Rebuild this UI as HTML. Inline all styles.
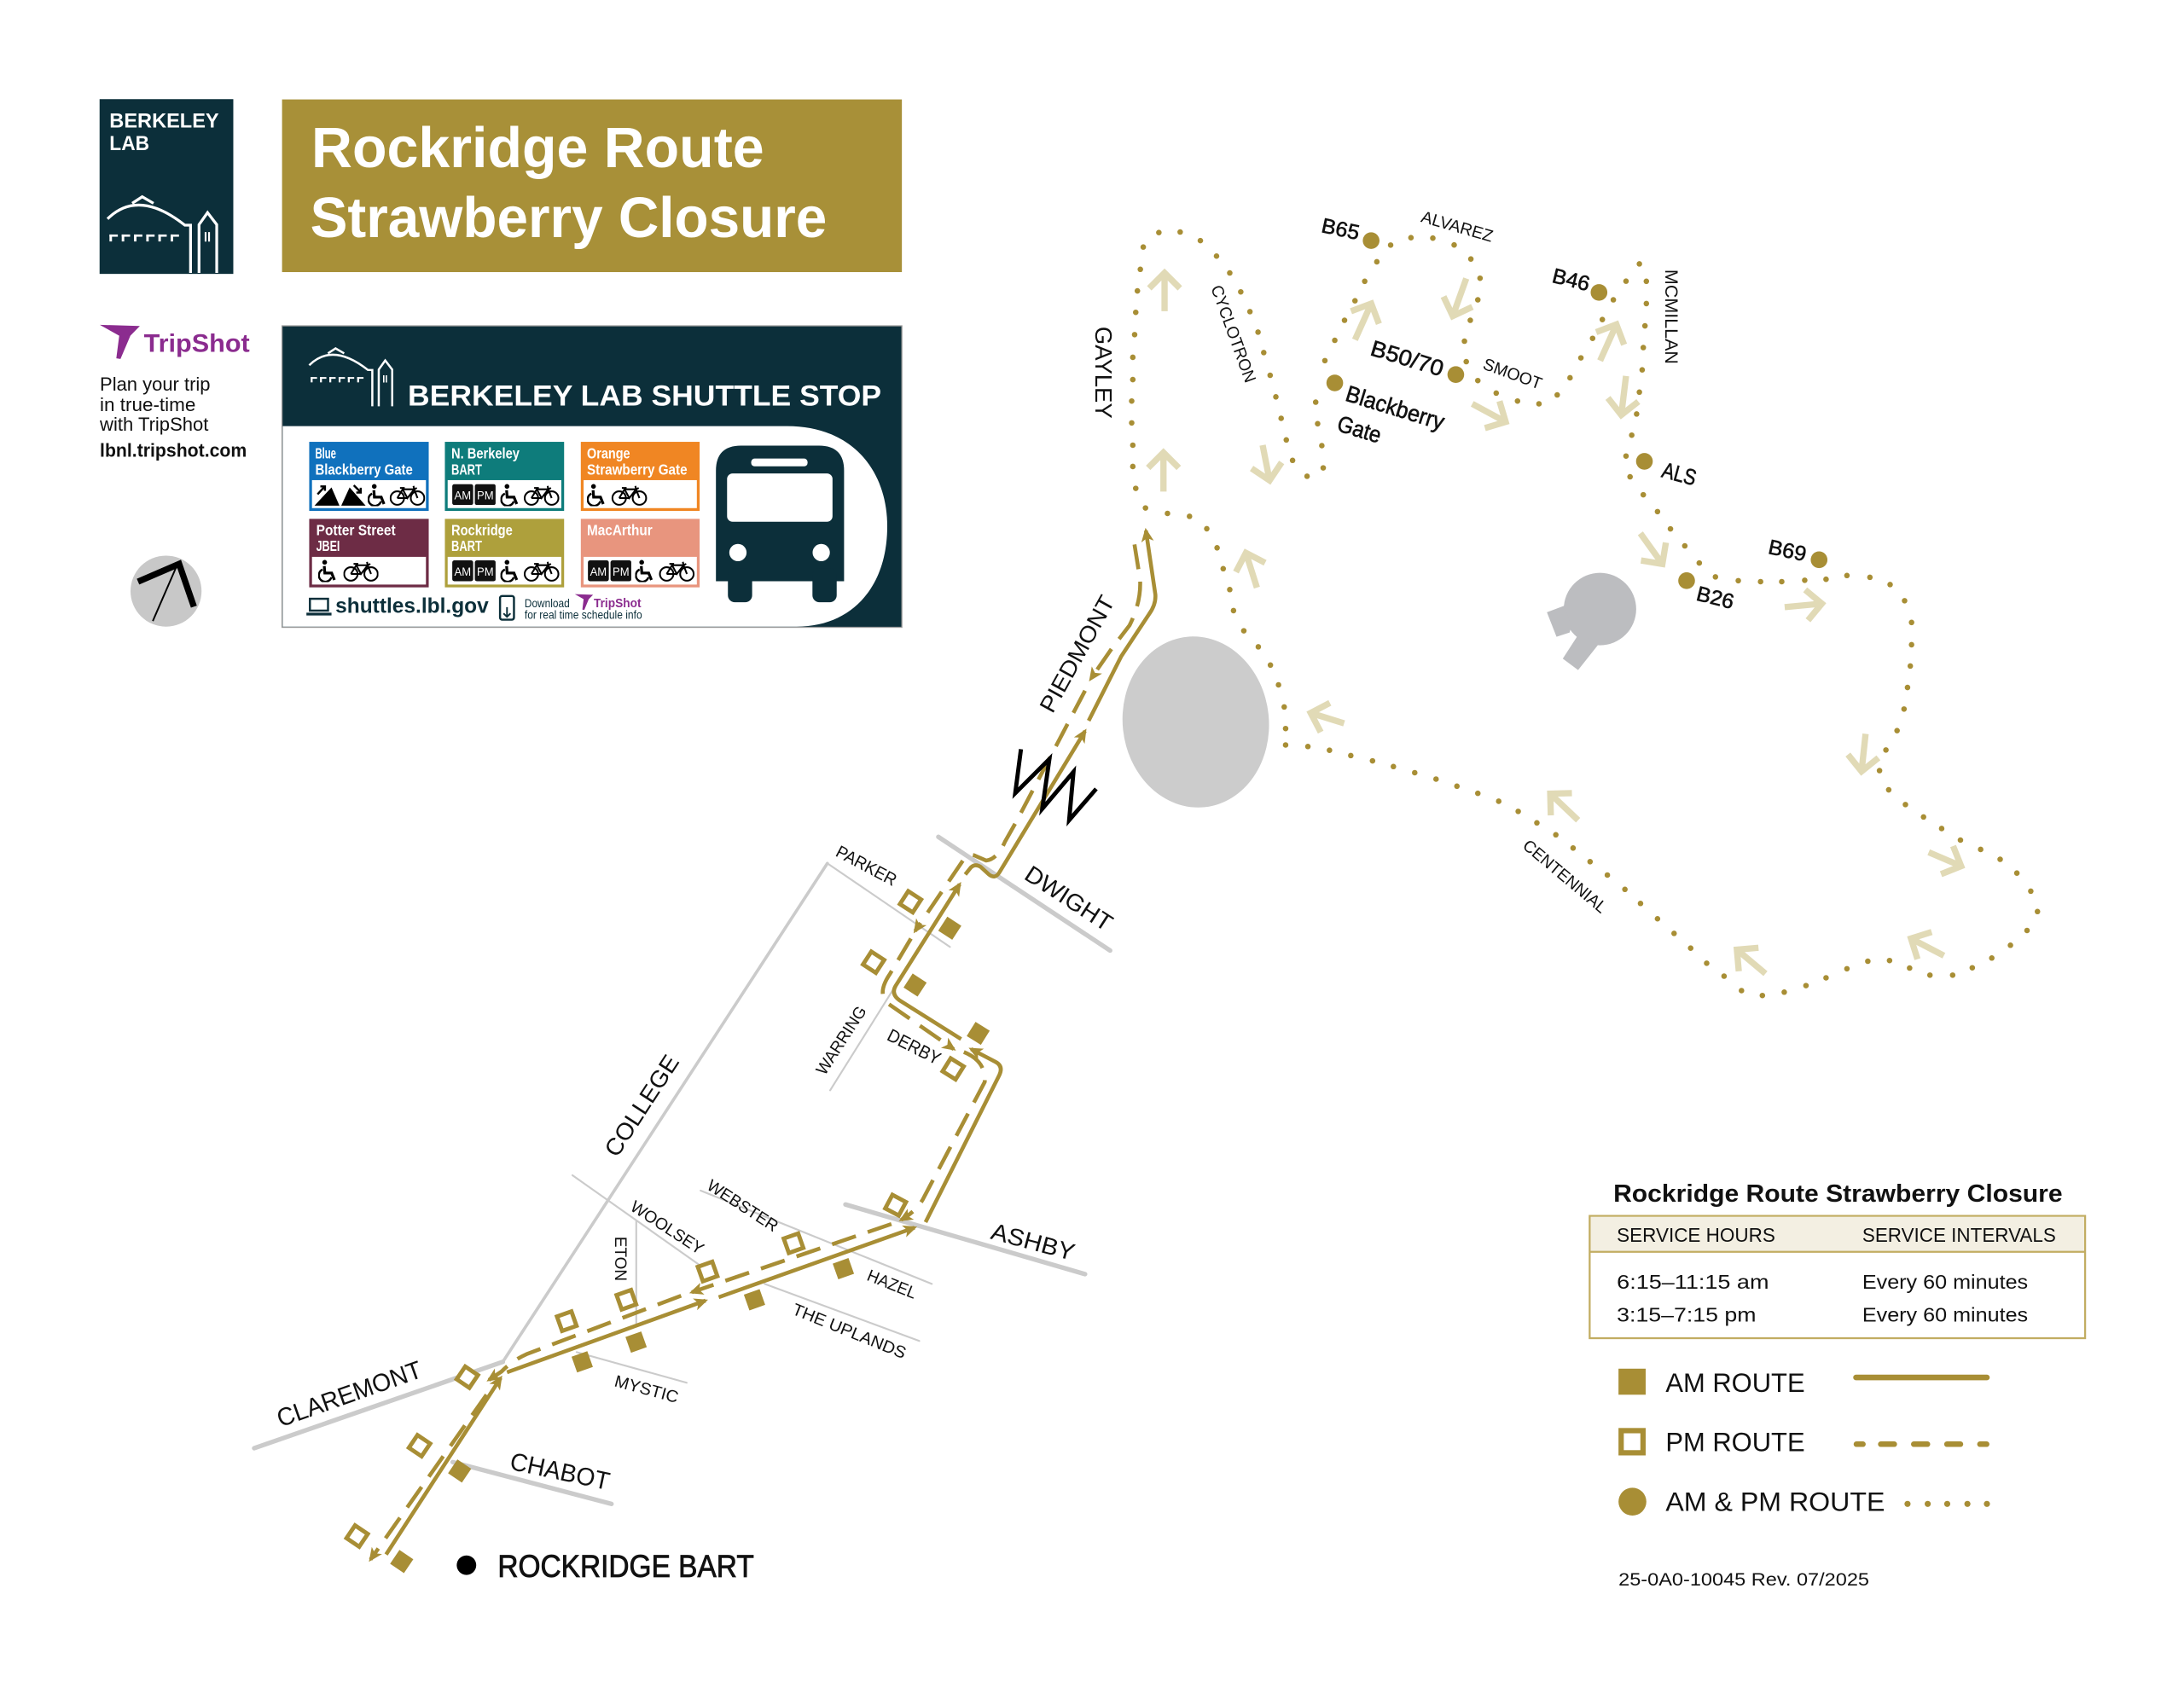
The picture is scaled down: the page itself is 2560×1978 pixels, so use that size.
<!DOCTYPE html>
<html><head><meta charset="utf-8">
<style>
html,body{margin:0;padding:0;background:#fff;width:2560px;height:1978px;overflow:hidden}
svg{display:block}
text{font-family:"Liberation Sans",Arial,sans-serif}
.rd{stroke:#cbcbcb;stroke-linecap:round;fill:none}
.sol{stroke:#a88e35;stroke-width:2.8;fill:none;stroke-linejoin:round}
.dsh{stroke:#a88e35;stroke-width:2.8;fill:none;stroke-dasharray:18 9;stroke-linejoin:round}
.pa{stroke:#e1dab6;stroke-width:4.5;fill:none}
.lb{fill:#111}
</style></head><body>
<svg width="2560" height="1978" viewBox="0 0 1568 1211.5" preserveAspectRatio="none" xmlns="http://www.w3.org/2000/svg">
<defs>
<marker id="ah" viewBox="0 0 10 9" refX="8" refY="4.5" markerWidth="10" markerHeight="9" markerUnits="userSpaceOnUse" orient="auto" overflow="visible"><path d="M0,0 L10,4.5 L0,9 L2.5,4.5 Z" fill="#a88e35"/></marker>
<marker id="pv" viewBox="0 0 20 24" refX="17" refY="12" markerWidth="20" markerHeight="24" markerUnits="userSpaceOnUse" orient="auto" overflow="visible"><path d="M6,1 L17,12 L6,23" stroke="#e1dab6" stroke-width="4.5" fill="none"/></marker>
<symbol id="wc" viewBox="0 0 14 16"><circle cx="4.5" cy="1.8" r="1.7" fill="#000"/><path d="M4.2,4.5 L4.6,9.5 L9.5,9.5 L11.5,14.5" stroke="#000" stroke-width="2" fill="none"/><path d="M3,7 A4.6,4.6 0 1 0 9.3,12.6" stroke="#000" stroke-width="1.5" fill="none"/></symbol>
<symbol id="bk" viewBox="0 0 26 16"><g stroke="#000" stroke-width="1.3" fill="none"><circle cx="5.5" cy="10" r="5"/><circle cx="20.5" cy="10" r="5"/><path d="M5.5,10 L9.5,3.5 L18,3.5 L20.5,10 M9.5,3.5 L13,10 L18,3.5 M13,10 L5.5,10 M7.5,2.5 L11,2.5 M17.5,1 L18,3.5 L20,2.5"/></g></symbol>
<symbol id="ampm" viewBox="0 0 31 15"><rect x="0" y="0" width="15" height="15" rx="1.5" fill="#111"/><rect x="16.2" y="0" width="15" height="15" rx="1.5" fill="#111"/><text x="7.5" y="11" font-size="8.5" fill="#fff" text-anchor="middle" textLength="12" lengthAdjust="spacingAndGlyphs">AM</text><text x="23.7" y="11" font-size="8.5" fill="#fff" text-anchor="middle" textLength="12" lengthAdjust="spacingAndGlyphs">PM</text></symbol>
</defs>

<!-- ===== HEADER ===== -->
<rect x="71.5" y="71.2" width="96" height="125.5" fill="#0c2f3a"/>
<text x="78.6" y="91.5" font-size="14.5" font-weight="bold" fill="#fff" textLength="78.6" lengthAdjust="spacingAndGlyphs">BERKELEY</text>
<text x="78.6" y="107.8" font-size="14.5" font-weight="bold" fill="#fff" textLength="28.6" lengthAdjust="spacingAndGlyphs">LAB</text>
<g id="logo">
<g stroke="#fff" stroke-width="2" fill="none">
<path d="M77.2,157.2 Q99.3,135.3 132.7,161.7 L136.8,161.7 L136.8,196"/>
<path d="M94.9,146 L102.1,141.3 L110.2,146"/>
<path d="M142.9,196 V161.3 L149,152.7 L155.6,161.3 V196"/>
<path d="M147.6,166.7 V173.5 M150.1,166.7 V173.5" stroke-width="1.3"/>
</g>
<g fill="#fff">
<rect x="78.6" y="168.4" width="6" height="1.6"/><rect x="78.6" y="168.4" width="1.8" height="5"/>
<rect x="87.4" y="168.4" width="6" height="1.6"/><rect x="87.4" y="168.4" width="1.8" height="5"/>
<rect x="96.2" y="168.4" width="6" height="1.6"/><rect x="96.2" y="168.4" width="1.8" height="5"/>
<rect x="105" y="168.4" width="6" height="1.6"/><rect x="105" y="168.4" width="1.8" height="5"/>
<rect x="113.7" y="168.4" width="6" height="1.6"/><rect x="113.7" y="168.4" width="1.8" height="5"/>
<rect x="122.5" y="168.4" width="6" height="1.6"/><rect x="122.5" y="168.4" width="1.8" height="5"/>
</g>
</g>

<rect x="202.5" y="71.4" width="445" height="124" fill="#a89038"/>
<text x="223.6" y="119.9" font-size="41" font-weight="bold" fill="#fff" textLength="325" lengthAdjust="spacingAndGlyphs">Rockridge Route</text>
<text x="222.7" y="170.2" font-size="41" font-weight="bold" fill="#fff" textLength="371" lengthAdjust="spacingAndGlyphs">Strawberry Closure</text>

<!-- TripShot -->
<path d="M71.7,233.3 L100.4,234.1 L93.6,241.1 L86.5,257.8 L83.5,257.3 L85.6,241.1 Z" fill="#8b2c8f"/>
<text x="103.3" y="252.7" font-size="18" font-weight="bold" fill="#8b2c8f" textLength="76" lengthAdjust="spacingAndGlyphs">TripShot</text>
<text x="71.7" y="280.5" font-size="13.5" fill="#111" textLength="79.3" lengthAdjust="spacingAndGlyphs">Plan your trip</text>
<text x="71.7" y="295.2" font-size="13.5" fill="#111" textLength="68.8" lengthAdjust="spacingAndGlyphs">in true-time</text>
<text x="71.7" y="309.4" font-size="13.5" fill="#111" textLength="78" lengthAdjust="spacingAndGlyphs">with TripShot</text>
<text x="71.7" y="328" font-size="13.5" font-weight="bold" fill="#111" textLength="105.5" lengthAdjust="spacingAndGlyphs">lbnl.tripshot.com</text>

<!-- North arrow -->
<circle cx="119.2" cy="424.5" r="25.5" fill="#c8c8c8"/>
<path d="M99.1,417.7 L128.6,405 L139.2,435.7" stroke="#000" stroke-width="4.5" fill="none" stroke-linejoin="miter"/>
<path d="M126.5,407.3 L109.7,446" stroke="#000" stroke-width="1.2"/>

<!-- ===== SHUTTLE SIGN ===== -->
<rect x="202.5" y="234" width="445" height="216.5" fill="#0c2f3a" stroke="#9a9a9a" stroke-width="0.8"/>
<path d="M203,306 H565 C612,306 637,338 637,378 C637,421 612,450 572,450 H203 Z" fill="#fff"/>
<g transform="translate(222,250.2) scale(0.76) translate(-77.2,-141.3)">
<use href="#logo"/>
</g>
<text x="292.8" y="291.1" font-size="21" font-weight="bold" fill="#fff" textLength="340" lengthAdjust="spacingAndGlyphs">BERKELEY LAB SHUTTLE STOP</text>

<!-- route boxes -->
<rect x="222" y="317.3" width="85.8" height="49.6" fill="#1071bd"/><rect x="224" y="344.8" width="81.8" height="20.1" fill="#fff"/>
<rect x="319.4" y="317.3" width="85.6" height="49.6" fill="#0e7c7b"/><rect x="321.4" y="344.8" width="81.6" height="20.1" fill="#fff"/>
<rect x="417" y="317.3" width="85.3" height="49.6" fill="#f08623"/><rect x="419" y="344.8" width="81.3" height="20.1" fill="#fff"/>
<rect x="222" y="372.6" width="85.8" height="49.2" fill="#6d2c45"/><rect x="224" y="399.9" width="81.8" height="19.9" fill="#fff"/>
<rect x="319.4" y="372.6" width="85.6" height="49.2" fill="#aea03c"/><rect x="321.4" y="399.9" width="81.6" height="19.9" fill="#fff"/>
<rect x="417" y="372.6" width="85.3" height="49.2" fill="#e8957e"/><rect x="419" y="399.9" width="81.3" height="19.9" fill="#fff"/>
<g font-size="10.5" font-weight="bold" fill="#fff">
<text x="226.3" y="329.3" textLength="15" lengthAdjust="spacingAndGlyphs">Blue</text>
<text x="226.3" y="341" textLength="70" lengthAdjust="spacingAndGlyphs">Blackberry Gate</text>
<text x="324" y="329.3" textLength="49" lengthAdjust="spacingAndGlyphs">N. Berkeley</text>
<text x="324" y="341" textLength="22" lengthAdjust="spacingAndGlyphs">BART</text>
<text x="421.4" y="329.3" textLength="31" lengthAdjust="spacingAndGlyphs">Orange</text>
<text x="421.4" y="341" textLength="72" lengthAdjust="spacingAndGlyphs">Strawberry Gate</text>
<text x="227" y="384.4" textLength="57" lengthAdjust="spacingAndGlyphs">Potter Street</text>
<text x="227" y="395.8" textLength="17" lengthAdjust="spacingAndGlyphs">JBEI</text>
<text x="324" y="384.4" textLength="44" lengthAdjust="spacingAndGlyphs">Rockridge</text>
<text x="324" y="395.8" textLength="22" lengthAdjust="spacingAndGlyphs">BART</text>
<text x="421.4" y="384.4" textLength="47" lengthAdjust="spacingAndGlyphs">MacArthur</text>
</g>
<!-- icons row 1 -->
<path d="M225.8,363.1 L238,350 L243.7,363.1 Z" fill="#000"/><path d="M228,355 L233,349.5 M230,349.3 L233.3,349.3 L233.3,352.5" stroke="#000" stroke-width="1.5" fill="none"/>
<path d="M245,363.1 L251,350 L262.5,363.1 Z" fill="#000"/><path d="M254,348.5 L259,353.5 M259,350.3 L259,353.7 L255.8,353.7" stroke="#000" stroke-width="1.5" fill="none"/>
<use href="#wc" x="264" y="347.5" width="14.4" height="16"/>
<use href="#bk" x="279.8" y="348" width="25.4" height="15.5"/>
<use href="#ampm" x="324.6" y="347.7" width="31.2" height="15"/>
<use href="#wc" x="359.3" y="347.5" width="14.4" height="16"/>
<use href="#bk" x="375.8" y="348" width="26" height="15.5"/>
<use href="#wc" x="421.4" y="347.5" width="14.4" height="16"/>
<use href="#bk" x="438.8" y="348" width="26" height="15.5"/>
<!-- icons row 2 -->
<use href="#wc" x="228.4" y="402" width="14.4" height="16"/>
<use href="#bk" x="246.6" y="402.5" width="25.1" height="15.5"/>
<use href="#ampm" x="324.6" y="402.4" width="31.2" height="15"/>
<use href="#wc" x="359.3" y="402" width="14.4" height="16"/>
<use href="#bk" x="375.8" y="402.5" width="26" height="15.5"/>
<use href="#ampm" x="422" y="402.4" width="31.2" height="15"/>
<use href="#wc" x="456" y="402" width="14.4" height="16"/>
<use href="#bk" x="472.9" y="402.5" width="26" height="15.5"/>

<!-- bus -->
<path d="M514,417.4 V338 Q514,320 532,320 H588 Q606,320 606,338 V417.4 Z" fill="#0c2f3a"/>
<rect x="522.6" y="408" width="17.4" height="24.5" rx="5" fill="#0c2f3a"/>
<rect x="583.3" y="408" width="17.4" height="24.5" rx="5" fill="#0c2f3a"/>
<rect x="522" y="340" width="75.7" height="34.7" rx="4" fill="#fff"/>
<rect x="539.3" y="329.3" width="40.5" height="5.6" rx="2.5" fill="#fff"/>
<circle cx="529.8" cy="396.8" r="6.2" fill="#fff"/>
<circle cx="589.6" cy="396.8" r="6.2" fill="#fff"/>

<!-- sign bottom line -->
<rect x="222.5" y="430" width="13" height="8.5" fill="none" stroke="#0c2f3a" stroke-width="1.5"/>
<path d="M220,441 H238" stroke="#0c2f3a" stroke-width="2"/>
<text x="240.8" y="440" font-size="15.5" font-weight="bold" fill="#0c2f3a" textLength="110" lengthAdjust="spacingAndGlyphs">shuttles.lbl.gov</text>
<rect x="359" y="428" width="10" height="17" rx="1.5" fill="none" stroke="#0c2f3a" stroke-width="1.5"/>
<path d="M364,436 V443 M361.5,440.5 L364,443 L366.5,440.5" stroke="#0c2f3a" stroke-width="1.2" fill="none"/>
<text x="376.6" y="436" font-size="8.5" fill="#0c2f3a" textLength="32.4" lengthAdjust="spacingAndGlyphs">Download</text>
<path d="M412.7,426.7 L425.8,427.1 L422.7,430.3 L419.5,438 L418.1,437.8 L419,430.3 Z" fill="#8b2c8f"/>
<text x="426.3" y="436" font-size="9" font-weight="bold" fill="#8b2c8f" textLength="34" lengthAdjust="spacingAndGlyphs">TripShot</text>
<text x="376.6" y="444.3" font-size="8.5" fill="#0c2f3a" textLength="84.4" lengthAdjust="spacingAndGlyphs">for real time schedule info</text>

<!-- ===== MAP ===== -->
<!-- roads -->
<path class="rd" stroke-width="2.2" d="M594,620 L361,978"/>
<path class="rd" stroke-width="1.3" d="M594,620 L682,680"/>
<path class="rd" stroke-width="3.3" d="M673.7,601 L797,682.6"/>
<path class="rd" stroke-width="1.3" d="M596,783 L641,711"/>
<path class="rd" stroke-width="3.3" d="M607,865 L779,915"/>
<path class="rd" stroke-width="1.3" d="M503,855 L669,922"/>
<path class="rd" stroke-width="1.3" d="M411,844 L503,909"/>
<path class="rd" stroke-width="1.3" d="M456.8,877 L456.8,950.5"/>
<path class="rd" stroke-width="1.3" d="M549,922 L660,963"/>
<path class="rd" stroke-width="1.3" d="M414,971 L493,993"/>
<path class="rd" stroke-width="3.3" d="M182.5,1040 L361,978"/>
<path class="rd" stroke-width="3.3" d="M325,1050 L439,1080"/>

<!-- gray shapes -->
<ellipse cx="858.5" cy="518.5" rx="52.5" ry="61.5" fill="#cccccc" transform="rotate(-6 858.5 518.5)"/>
<circle cx="1148.7" cy="437.4" r="26" fill="#bcbdc0"/>
<path d="M1110.6,439.7 L1123,435 L1128,450 L1126.9,454.2 L1117.5,457.3 Z" fill="#bcbdc0"/>
<path d="M1133,456 L1149,461 L1133,481.2 L1122,473 Z" fill="#bcbdc0"/>

<!-- dotted route -->
<g fill="#a88e35">
<circle cx="822.4" cy="364.8" r="2"/><circle cx="815.4" cy="350.7" r="2"/><circle cx="813.3" cy="335" r="2"/><circle cx="813.3" cy="319.7" r="2"/><circle cx="812.5" cy="303.7" r="2"/><circle cx="812.5" cy="288" r="2"/><circle cx="813.3" cy="272.6" r="2"/><circle cx="813.3" cy="256.6" r="2"/><circle cx="814.6" cy="240.3" r="2"/><circle cx="815.4" cy="224.3" r="2"/><circle cx="816.6" cy="208.9" r="2"/><circle cx="818.7" cy="193.4" r="2"/><circle cx="820.8" cy="177.4" r="2"/><circle cx="832" cy="167" r="2"/><circle cx="847.3" cy="166.6" r="2"/><circle cx="861.8" cy="172.8" r="2"/><circle cx="873.4" cy="183.9" r="2"/><circle cx="882.9" cy="196" r="2"/><circle cx="890.8" cy="209.6" r="2"/><circle cx="897.4" cy="223.8" r="2"/><circle cx="903.2" cy="238.5" r="2"/><circle cx="907.3" cy="253.2" r="2"/><circle cx="911.9" cy="269.5" r="2"/><circle cx="916" cy="285" r="2"/><circle cx="919.8" cy="300.4" r="2"/><circle cx="923.5" cy="315.9" r="2"/><circle cx="928" cy="330.6" r="2"/><circle cx="938.4" cy="342" r="2"/><circle cx="950" cy="336" r="2"/><circle cx="949" cy="320" r="2"/><circle cx="946" cy="304.3" r="2"/><circle cx="944.6" cy="288.8" r="2"/><circle cx="951.2" cy="259" r="2"/><circle cx="958.3" cy="244.4" r="2"/><circle cx="965.3" cy="230" r="2"/><circle cx="972.8" cy="216" r="2"/><circle cx="979.8" cy="202" r="2"/><circle cx="988.5" cy="188" r="2"/>
<circle cx="998.4" cy="176" r="2"/><circle cx="1013" cy="170.7" r="2"/><circle cx="1028.7" cy="171" r="2"/><circle cx="1044" cy="175.9" r="2"/><circle cx="1056" cy="186" r="2"/><circle cx="1062.6" cy="199.8" r="2"/><circle cx="1061" cy="215.3" r="2"/><circle cx="1055.6" cy="230" r="2"/><circle cx="1051.4" cy="245" r="2"/><circle cx="1052.7" cy="259.7" r="2"/>
<circle cx="1061" cy="273.3" r="2"/><circle cx="1074.2" cy="282.3" r="2"/><circle cx="1089.5" cy="288" r="2"/><circle cx="1104.9" cy="290" r="2"/><circle cx="1118" cy="283.6" r="2"/><circle cx="1127.2" cy="271.3" r="2"/><circle cx="1135" cy="257" r="2"/><circle cx="1143.4" cy="243" r="2"/><circle cx="1150.4" cy="229.5" r="2"/><circle cx="1158.3" cy="215.3" r="2"/>
<circle cx="1167.4" cy="201.9" r="2"/><circle cx="1177" cy="189.5" r="2"/><circle cx="1182" cy="202" r="2"/><circle cx="1182" cy="218" r="2"/><circle cx="1181" cy="234" r="2"/><circle cx="1179.8" cy="249.6" r="2"/><circle cx="1179" cy="265.6" r="2"/><circle cx="1177" cy="281.6" r="2"/><circle cx="1175" cy="297.3" r="2"/><circle cx="1171.5" cy="312.5" r="2"/><circle cx="1167.4" cy="327.5" r="2"/>
<circle cx="1170.3" cy="342.4" r="2"/><circle cx="1179.8" cy="355.3" r="2"/><circle cx="1190" cy="367.4" r="2"/><circle cx="1199.3" cy="379.8" r="2"/><circle cx="1209.6" cy="392" r="2"/><circle cx="1220" cy="404.3" r="2"/>
<circle cx="1231.6" cy="414.3" r="2"/><circle cx="1248" cy="417" r="2"/><circle cx="1264" cy="417.7" r="2"/><circle cx="1279.2" cy="417.7" r="2"/><circle cx="1295.7" cy="416.7" r="2"/><circle cx="1311" cy="416" r="2"/><circle cx="1326" cy="413.3" r="2"/><circle cx="1342.5" cy="414.6" r="2"/><circle cx="1357" cy="419.8" r="2"/><circle cx="1367.4" cy="431.4" r="2"/><circle cx="1372.4" cy="447" r="2"/><circle cx="1372.4" cy="463" r="2"/><circle cx="1371.5" cy="478.3" r="2"/><circle cx="1369.5" cy="493.7" r="2"/><circle cx="1367" cy="509.2" r="2"/><circle cx="1362" cy="524.7" r="2"/><circle cx="1354" cy="538.6" r="2"/><circle cx="1349.4" cy="553.4" r="2"/><circle cx="1356" cy="567.2" r="2"/><circle cx="1368" cy="577.8" r="2"/><circle cx="1381" cy="586.7" r="2"/><circle cx="1394" cy="595" r="2"/><circle cx="1407.5" cy="603.3" r="2"/><circle cx="1422" cy="610" r="2"/><circle cx="1436" cy="617.1" r="2"/><circle cx="1448" cy="627" r="2"/><circle cx="1458" cy="640" r="2"/><circle cx="1462.8" cy="654.6" r="2"/><circle cx="1455.3" cy="668.2" r="2"/><circle cx="1443.4" cy="678.8" r="2"/><circle cx="1430" cy="688" r="2"/><circle cx="1416" cy="695" r="2"/><circle cx="1401.9" cy="700.3" r="2"/><circle cx="1385.6" cy="700.3" r="2"/><circle cx="1371" cy="695.2" r="2"/><circle cx="1356.6" cy="689.8" r="2"/><circle cx="1341" cy="690.3" r="2"/><circle cx="1326" cy="695.7" r="2"/><circle cx="1311" cy="702.2" r="2"/><circle cx="1296.6" cy="707.8" r="2"/><circle cx="1281" cy="712.5" r="2"/><circle cx="1265.3" cy="714.9" r="2"/><circle cx="1250.3" cy="711.4" r="2"/><circle cx="1237.8" cy="701" r="2"/><circle cx="1225.3" cy="691.7" r="2"/><circle cx="1213.8" cy="680.9" r="2"/><circle cx="1201.9" cy="670.3" r="2"/><circle cx="1190" cy="659.8" r="2"/><circle cx="1177.8" cy="648.8" r="2"/><circle cx="1166.6" cy="638.7" r="2"/><circle cx="1154" cy="628.4" r="2"/><circle cx="1141.6" cy="618.8" r="2"/><circle cx="1129.4" cy="609" r="2"/><circle cx="1117" cy="599.5" r="2"/><circle cx="1103.4" cy="590.9" r="2"/><circle cx="1090" cy="582.7" r="2"/><circle cx="1076" cy="575.4" r="2"/><circle cx="1061" cy="569.7" r="2"/><circle cx="1046" cy="564.6" r="2"/><circle cx="1031" cy="559.5" r="2"/><circle cx="1015.7" cy="554.9" r="2"/><circle cx="1000.4" cy="550.5" r="2"/><circle cx="985.4" cy="546.4" r="2"/><circle cx="969.8" cy="542.6" r="2"/><circle cx="954.5" cy="538.8" r="2"/><circle cx="939" cy="536.1" r="2"/><circle cx="923" cy="535" r="2"/><circle cx="923" cy="523.2" r="2"/><circle cx="922" cy="507.7" r="2"/><circle cx="917.9" cy="491.8" r="2"/><circle cx="912.1" cy="477.6" r="2"/><circle cx="903.4" cy="464.5" r="2"/><circle cx="893" cy="453" r="2"/><circle cx="885.6" cy="438.5" r="2"/><circle cx="882.9" cy="423.4" r="2"/><circle cx="878.2" cy="408.4" r="2"/><circle cx="873.8" cy="393.4" r="2"/><circle cx="866.4" cy="379.7" r="2"/><circle cx="854" cy="370.8" r="2"/><circle cx="838.2" cy="368.7" r="2"/>
<!-- stop dots -->
<circle cx="984.4" cy="172.8" r="6"/><circle cx="1045.2" cy="269" r="6"/><circle cx="958.3" cy="275" r="6"/><circle cx="1148" cy="210" r="6"/><circle cx="1180.6" cy="331.3" r="6"/><circle cx="1210.9" cy="417" r="6"/><circle cx="1306" cy="402" r="6"/>
</g>

<!-- pale direction arrows -->
<g class="pa" marker-end="url(#pv)">
<path class="pa" marker-end="url(#pv)" d="M836.1,223.5 L836.1,196"/>
<path class="pa" marker-end="url(#pv)" d="M835.3,353 L835.3,325"/>
<path class="pa" marker-end="url(#pv)" d="M906.5,319.7 L911.5,345"/>
<path class="pa" marker-end="url(#pv)" d="M972.8,244 L984.5,218"/>
<path class="pa" marker-end="url(#pv)" d="M1052.7,200 L1043,227"/>
<path class="pa" marker-end="url(#pv)" d="M1057,290 L1081,303"/>
<path class="pa" marker-end="url(#pv)" d="M1148.8,259 L1160.5,233"/>
<path class="pa" marker-end="url(#pv)" d="M1167.4,270 L1164,298"/>
<path class="pa" marker-end="url(#pv)" d="M1177.7,383 L1193.5,405"/>
<path class="pa" marker-end="url(#pv)" d="M1281.3,436 L1308,433.5"/>
<path class="pa" marker-end="url(#pv)" d="M902.4,422 L894.5,397"/>
<path class="pa" marker-end="url(#pv)" d="M965,519.5 L941,512"/>
<path class="pa" marker-end="url(#pv)" d="M1339.4,527 L1336.5,554"/>
<path class="pa" marker-end="url(#pv)" d="M1384.7,612 L1408,622"/>
<path class="pa" marker-end="url(#pv)" d="M1395.6,686.3 L1372,674"/>
<path class="pa" marker-end="url(#pv)" d="M1267.5,699.2 L1247,682"/>
<path class="pa" marker-end="url(#pv)" d="M1133,589 L1113,570"/>
</g>

<!-- AM solid route -->
<path class="sol" marker-end="url(#ah)" d="M277.2,1116.3 L359.5,989.5"/>
<path class="sol" marker-end="url(#ah)" d="M364,985.5 L506.5,934"/>
<path class="sol" marker-end="url(#ah)" d="M516,931.6 L656.6,881.6"/>
<path class="sol" marker-end="url(#ah)" d="M664.5,877.7 L717.5,772 Q720.5,765.5 714.6,762.5 L697.2,753.4"/>
<path class="sol" marker-end="url(#ah)" d="M690,746.2 L646,718.5 Q639.5,714 643,708 L689,635"/>
<path class="sol" marker-end="url(#ah)" d="M693,628 L697,623 Q700,620 704,622.5 L710,628 Q714.5,631.5 717.5,626.5 L779,525"/>
<path class="sol" marker-end="url(#ah)" d="M781.6,517.6 L805,471.3 L825,441 Q830,434 829.5,427 L822.7,381"/>

<!-- PM dashed route -->
<path class="dsh" marker-end="url(#ah)" d="M814.5,391 L818.5,416 Q819.5,432 811,449 L798,466 L783,487.7"/>
<path class="dsh" marker-end="url(#ah)" d="M779,496 L729.7,590 L721.6,604.3 Q716,617 708,618 L700,614.5 Q695,612.5 692,617 L657,668.6"/>
<path class="dsh" marker-end="url(#ah)" d="M654,674 L639,699.3 Q629,714 638,721 L684.7,753.4"/>
<path class="dsh" marker-end="url(#ah)" d="M692,755.5 Q708,762 707,777 L663.5,859.5 Q659,869 647,876"/>
<path class="dsh" marker-end="url(#ah)" d="M640,879 L496.7,928"/>
<path class="dsh" marker-end="url(#ah)" d="M489,930.5 L378,972.5 Q368,977 360,985 L351,991"/>
<path class="dsh" marker-end="url(#ah)" d="M349.3,1001.6 L266,1120"/>

<!-- stop squares -->
<g fill="#a88e35">
<rect x="-6" y="-6" width="12" height="12" transform="translate(288.4,1121.4) rotate(34)"/>
<rect x="-6" y="-6" width="12" height="12" transform="translate(330,1056.4) rotate(34)"/>
<rect x="-6" y="-6" width="12" height="12" transform="translate(418,978) rotate(-19.5)"/>
<rect x="-6" y="-6" width="12" height="12" transform="translate(456.7,963.8) rotate(-19.5)"/>
<rect x="-6" y="-6" width="12" height="12" transform="translate(541.7,933.4) rotate(-19.5)"/>
<rect x="-6" y="-6" width="12" height="12" transform="translate(605.5,911.1) rotate(-19.5)"/>
<rect x="-6" y="-6" width="12" height="12" transform="translate(657,707.4) rotate(33)"/>
<rect x="-6" y="-6" width="12" height="12" transform="translate(681.9,666.6) rotate(33)"/>
<rect x="-6" y="-6" width="12" height="12" transform="translate(702.3,742.1) rotate(32)"/>
</g>
<g fill="#fff" stroke="#a88e35" stroke-width="3">
<rect x="-5.5" y="-5.5" width="11" height="11" transform="translate(256.4,1103.1) rotate(34)"/>
<rect x="-5.5" y="-5.5" width="11" height="11" transform="translate(301.2,1038.2) rotate(34)"/>
<rect x="-5.5" y="-5.5" width="11" height="11" transform="translate(335.5,989) rotate(34)"/>
<rect x="-5.5" y="-5.5" width="11" height="11" transform="translate(406.9,948.8) rotate(-19.5)"/>
<rect x="-5.5" y="-5.5" width="11" height="11" transform="translate(449.7,933.4) rotate(-19.5)"/>
<rect x="-5.5" y="-5.5" width="11" height="11" transform="translate(508,913.1) rotate(-19.5)"/>
<rect x="-5.5" y="-5.5" width="11" height="11" transform="translate(569.7,892.8) rotate(-19.5)"/>
<rect x="-5.5" y="-5.5" width="11" height="11" transform="translate(643,865.5) rotate(28)"/>
<rect x="-5.5" y="-5.5" width="11" height="11" transform="translate(627.2,691) rotate(33)"/>
<rect x="-5.5" y="-5.5" width="11" height="11" transform="translate(653.7,647.6) rotate(33)"/>
<rect x="-5.5" y="-5.5" width="11" height="11" transform="translate(684.3,767.6) rotate(32)"/>
</g>

<!-- break zigzag -->
<polyline points="733,538 728.9,569.6 753.4,545.1 748.3,580.8 770.7,554.3 767.6,589 787,566.5" fill="none" stroke="#000" stroke-width="3" stroke-linejoin="miter"/>

<!-- labels -->
<g class="lb">
<text transform="translate(786.5,234.5) rotate(90)" font-size="17" textLength="66" lengthAdjust="spacingAndGlyphs">GAYLEY</text>
<text transform="translate(869.2,206.6) rotate(70)" font-size="12" textLength="73.4" lengthAdjust="spacingAndGlyphs">CYCLOTRON</text>
<text transform="translate(1019.6,159.2) rotate(16)" font-size="12" textLength="53" lengthAdjust="spacingAndGlyphs">ALVAREZ</text>
<text transform="translate(1063.9,264.7) rotate(20)" font-size="12" textLength="44" lengthAdjust="spacingAndGlyphs">SMOOT</text>
<text transform="translate(1195.5,193.5) rotate(90)" font-size="13" textLength="68" lengthAdjust="spacingAndGlyphs">MCMILLAN</text>
<text transform="translate(1092.5,608.5) rotate(40)" font-size="12" textLength="74.4" lengthAdjust="spacingAndGlyphs">CENTENNIAL</text>
<text transform="translate(755.7,513) rotate(-61)" font-size="16.5" textLength="93" lengthAdjust="spacingAndGlyphs">PIEDMONT</text>
<text transform="translate(734.4,630.7) rotate(33)" font-size="17" textLength="71" lengthAdjust="spacingAndGlyphs">DWIGHT</text>
<text transform="translate(599.2,614.3) rotate(28)" font-size="12.5" textLength="47.3" lengthAdjust="spacingAndGlyphs">PARKER</text>
<text transform="translate(592.1,772.8) rotate(-57)" font-size="12" textLength="56" lengthAdjust="spacingAndGlyphs">WARRING</text>
<text transform="translate(636,746.4) rotate(27)" font-size="13" textLength="41" lengthAdjust="spacingAndGlyphs">DERBY</text>
<text transform="translate(443,832) rotate(-57)" font-size="17" textLength="83" lengthAdjust="spacingAndGlyphs">COLLEGE</text>
<text transform="translate(506.7,853.4) rotate(33)" font-size="12" textLength="58" lengthAdjust="spacingAndGlyphs">WEBSTER</text>
<text transform="translate(451.7,868.6) rotate(33)" font-size="12" textLength="60" lengthAdjust="spacingAndGlyphs">WOOLSEY</text>
<text transform="translate(441.5,888) rotate(90)" font-size="12" textLength="32" lengthAdjust="spacingAndGlyphs">ETON</text>
<text transform="translate(621.7,919) rotate(22)" font-size="12" textLength="37" lengthAdjust="spacingAndGlyphs">HAZEL</text>
<text transform="translate(568,943.4) rotate(22)" font-size="12" textLength="86.8" lengthAdjust="spacingAndGlyphs">THE UPLANDS</text>
<text transform="translate(710.5,889.4) rotate(15)" font-size="17" textLength="61.4" lengthAdjust="spacingAndGlyphs">ASHBY</text>
<text transform="translate(440.5,995.4) rotate(15)" font-size="12" textLength="46.9" lengthAdjust="spacingAndGlyphs">MYSTIC</text>
<text transform="translate(201.4,1025) rotate(-19.5)" font-size="18" textLength="109" lengthAdjust="spacingAndGlyphs">CLAREMONT</text>
<text transform="translate(365.3,1055) rotate(12)" font-size="18" textLength="72.5" lengthAdjust="spacingAndGlyphs">CHABOT</text>
</g>
<g class="lb" stroke="#111" stroke-width="0.35">
<text transform="translate(948,166.6) rotate(12)" font-size="15" textLength="27.4" lengthAdjust="spacingAndGlyphs">B65</text>
<text transform="translate(983,254.7) rotate(17)" font-size="16" textLength="53.8" lengthAdjust="spacingAndGlyphs">B50/70</text>
<text transform="translate(1113.6,202.5) rotate(14)" font-size="15" textLength="27.1" lengthAdjust="spacingAndGlyphs">B46</text>
<text transform="translate(965.1,287.5) rotate(17)" font-size="16.5" textLength="73" lengthAdjust="spacingAndGlyphs">Blackberry</text>
<text transform="translate(959,309) rotate(17)" font-size="16.5" textLength="32" lengthAdjust="spacingAndGlyphs">Gate</text>
<text transform="translate(1192.2,342.4) rotate(15)" font-size="16" textLength="24.8" lengthAdjust="spacingAndGlyphs">ALS</text>
<text transform="translate(1268.8,397.4) rotate(12)" font-size="15" textLength="27.4" lengthAdjust="spacingAndGlyphs">B69</text>
<text transform="translate(1217.1,430.8) rotate(14)" font-size="15" textLength="27.1" lengthAdjust="spacingAndGlyphs">B26</text>
<text x="357.3" y="1132.6" font-size="22.5" textLength="184" lengthAdjust="spacingAndGlyphs" stroke-width="0.5">ROCKRIDGE BART</text>
</g>
<circle cx="334.9" cy="1124" r="7" fill="#000"/>

<!-- ===== LEGEND ===== -->
<text x="1158.3" y="862.9" font-size="17.5" font-weight="bold" fill="#111" textLength="322.5" lengthAdjust="spacingAndGlyphs">Rockridge Route Strawberry Closure</text>
<rect x="1141.3" y="873.2" width="355.7" height="87.8" fill="#fff" stroke="#c2ad62" stroke-width="1.4"/>
<rect x="1142" y="873.9" width="354.3" height="25.1" fill="#f3efe2"/>
<path d="M1141.3,899 H1497" stroke="#c2ad62" stroke-width="1.4"/>
<g font-size="14" fill="#111">
<text x="1160.8" y="891.9" textLength="113.7" lengthAdjust="spacingAndGlyphs">SERVICE HOURS</text>
<text x="1337" y="891.9" textLength="139" lengthAdjust="spacingAndGlyphs">SERVICE INTERVALS</text>
<text x="1160.8" y="925.4" textLength="109.2" lengthAdjust="spacingAndGlyphs">6:15–11:15 am</text>
<text x="1337" y="925.4" textLength="119" lengthAdjust="spacingAndGlyphs">Every 60 minutes</text>
<text x="1160.8" y="949.2" textLength="100" lengthAdjust="spacingAndGlyphs">3:15–7:15 pm</text>
<text x="1337" y="949.2" textLength="119" lengthAdjust="spacingAndGlyphs">Every 60 minutes</text>
</g>
<rect x="1162" y="982.9" width="19.5" height="18.7" fill="#a88e35"/>
<text x="1195.8" y="999.6" font-size="19.5" fill="#111" textLength="100" lengthAdjust="spacingAndGlyphs">AM ROUTE</text>
<path d="M1332.5,989.2 H1426.5" stroke="#a88e35" stroke-width="4" stroke-linecap="round"/>
<rect x="1163.9" y="1027.4" width="15.7" height="15.9" fill="#fff" stroke="#a88e35" stroke-width="3.8"/>
<text x="1195.8" y="1042.2" font-size="19.5" fill="#111" textLength="100" lengthAdjust="spacingAndGlyphs">PM ROUTE</text>
<path d="M1332.8,1037.1 H1337.5 M1350.3,1037.1 H1360 M1374,1037.1 H1383.8 M1397.8,1037.1 H1407.5 M1421.5,1037.1 H1426.3" stroke="#a88e35" stroke-width="4" stroke-linecap="round"/>
<circle cx="1172" cy="1078.4" r="10" fill="#a88e35"/>
<text x="1195.8" y="1084.9" font-size="19.5" fill="#111" textLength="157.5" lengthAdjust="spacingAndGlyphs">AM &amp; PM ROUTE</text>
<g fill="#a88e35"><circle cx="1369.5" cy="1080" r="2.2"/><circle cx="1384" cy="1080" r="2.2"/><circle cx="1398" cy="1080" r="2.2"/><circle cx="1412.5" cy="1080" r="2.2"/><circle cx="1426.5" cy="1080" r="2.2"/></g>
<text x="1162" y="1138.7" font-size="12.8" fill="#111" textLength="180" lengthAdjust="spacingAndGlyphs">25-0A0-10045 Rev. 07/2025</text>
</svg>
</body></html>
